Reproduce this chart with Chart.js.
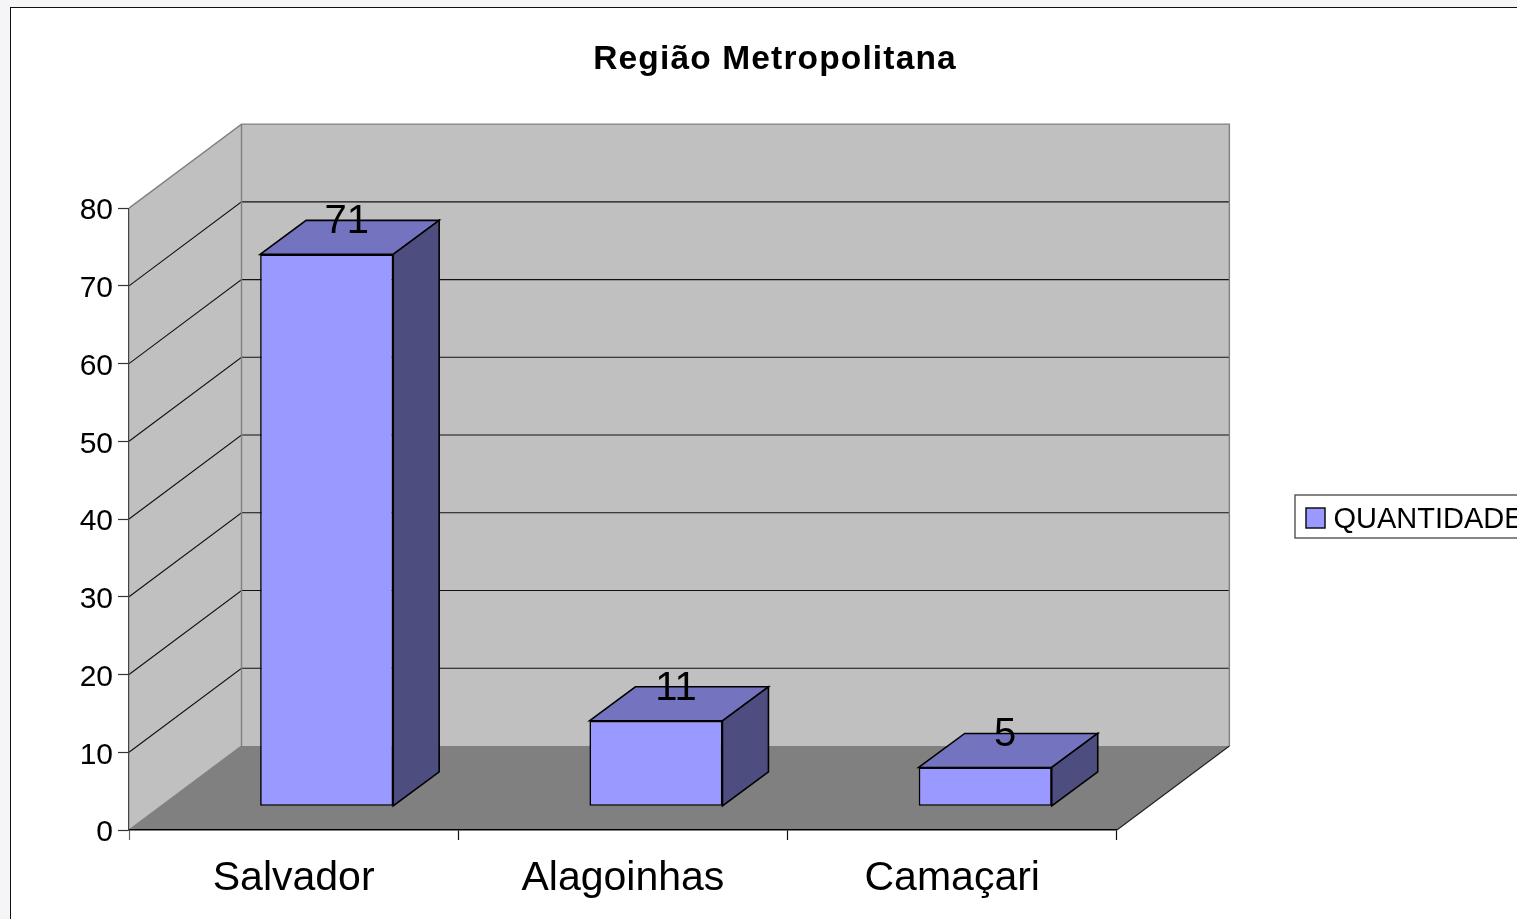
<!DOCTYPE html>
<html lang="pt">
<head>
<meta charset="utf-8">
<title>Região Metropolitana</title>
<script src="https://cdn.jsdelivr.net/npm/chart.js@4/dist/chart.umd.min.js"></script>
<style>
html,body{margin:0;padding:0;width:1517px;height:919px;overflow:hidden;background:#f5f5f7}
#frame{position:absolute;left:10px;top:7px;width:1600px;height:1000px;border:1.5px solid #111;background:#fff;box-sizing:border-box}
#c{position:absolute;left:11px;top:8px;display:block}
</style>
</head>
<body>
<div id="frame"></div>
<canvas id="c" width="1528" height="911"></canvas>
<script>
const titleText = "Região Metropolitana";
const seriesName = "QUANTIDADE";
const categories = ["Salvador", "Alagoinhas", "Camaçari"];
const quantities = [71, 11, 5];
const yMin = 0, yMax = 80, yStep = 10;

const FONT = '"Liberation Sans", Arial, sans-serif';
const WALL = '#c0c0c0', FLOOR = '#808080', EDGE = '#808080';
const FACE = '#9999ff', TOP = '#7373bf', SIDE = '#4d4d80';
const DEPTH = {dx: 112.5, dy: -84};    // plot depth
const BAR_SHIFT = {dx: 33, dy: -23.7}; // bar front plane inside the plot
const BAR_DEPTH = {dx: 46, dy: -34};   // bar depth
const LEGEND_BOX = {left: 1284, top: 487, right: 1560, bottom: 530};
const LEGEND_TEXT_SHIFT = 3;

function poly(ctx, pts, fill, stroke, lw) {
  ctx.beginPath();
  pts.forEach((p, i) => i ? ctx.lineTo(p[0], p[1]) : ctx.moveTo(p[0], p[1]));
  ctx.closePath();
  if (fill) { ctx.fillStyle = fill; ctx.fill(); }
  if (stroke) { ctx.strokeStyle = stroke; ctx.lineWidth = lw || 1; ctx.stroke(); }
}

const plot3d = {
  id: 'plot3d',
  afterLayout(chart) {
    const l = chart.legend;
    l.left = LEGEND_BOX.left; l.right = LEGEND_BOX.right;
    l.top = LEGEND_BOX.top + LEGEND_TEXT_SHIFT; l.bottom = LEGEND_BOX.bottom + LEGEND_TEXT_SHIFT;
    const t = chart.titleBlock;
    t.left = 0; t.right = chart.width;
    if (!t._spaced) {
      const draw = t.draw;
      t.draw = function () {
        this.ctx.save();
        this.ctx.letterSpacing = '1.15px';
        draw.call(this);
        this.ctx.restore();
      };
      t._spaced = true;
    }
  },
  beforeDraw(chart) {
    const {ctx, chartArea: a, scales: {y}} = chart;
    const {dx, dy} = DEPTH;
    ctx.save();
    poly(ctx, [[a.left+dx,a.top+dy],[a.right+dx,a.top+dy],[a.right+dx,a.bottom+dy],[a.left+dx,a.bottom+dy]], WALL);
    poly(ctx, [[a.left,a.top],[a.left+dx,a.top+dy],[a.left+dx,a.bottom+dy],[a.left,a.bottom]], WALL);
    poly(ctx, [[a.left,a.bottom],[a.left+dx,a.bottom+dy],[a.right+dx,a.bottom+dy],[a.right,a.bottom]], FLOOR);
    y.ticks.forEach(t => {
      if (t.value === yMin || t.value === yMax) return;
      const p = y.getPixelForValue(t.value);
      ctx.beginPath();
      ctx.moveTo(a.left, p); ctx.lineTo(a.left+dx, p+dy); ctx.lineTo(a.right+dx, p+dy);
      ctx.strokeStyle = '#111'; ctx.lineWidth = 1.1; ctx.stroke();
    });
    ctx.beginPath();
    ctx.moveTo(a.left, a.top); ctx.lineTo(a.left+dx, a.top+dy); ctx.lineTo(a.right+dx, a.top+dy);
    ctx.lineTo(a.right+dx, a.bottom+dy);
    ctx.moveTo(a.left+dx, a.top+dy); ctx.lineTo(a.left+dx, a.bottom+dy); ctx.lineTo(a.left, a.bottom);
    ctx.strokeStyle = EDGE; ctx.lineWidth = 1.4; ctx.stroke();
    ctx.beginPath();
    ctx.moveTo(a.right, a.bottom); ctx.lineTo(a.right+dx, a.bottom+dy);
    ctx.strokeStyle = '#222'; ctx.lineWidth = 1.2; ctx.stroke();
    ctx.restore();
  },
  beforeDatasetDraw(chart) {
    chart.ctx.save();
    chart.ctx.translate(BAR_SHIFT.dx, BAR_SHIFT.dy);
  },
  afterDatasetDraw(chart, args) {
    const ctx = chart.ctx, {dx, dy} = BAR_DEPTH;
    args.meta.data.forEach(el => {
      const l = el.x - el.width/2, r = el.x + el.width/2;
      poly(ctx, [[l,el.y],[l+dx,el.y+dy],[r+dx,el.y+dy],[r,el.y]], TOP, '#000', 1.6);
      poly(ctx, [[r,el.y],[r+dx,el.y+dy],[r+dx,el.base+dy],[r,el.base]], SIDE, '#000', 1.6);
    });
    ctx.restore();
  },
  afterDatasetsDraw(chart) {
    const ctx = chart.ctx, meta = chart.getDatasetMeta(0);
    ctx.save();
    ctx.font = '40px ' + FONT;
    ctx.fillStyle = '#000';
    ctx.textAlign = 'center';
    ctx.textBaseline = 'middle';
    meta.data.forEach((el, i) => {
      ctx.fillText(String(quantities[i]), el.x + BAR_SHIFT.dx + 20, el.y + BAR_SHIFT.dy + BAR_DEPTH.dy + 2);
    });
    ctx.restore();
  },
  afterDraw(chart) {
    const ctx = chart.ctx, b = LEGEND_BOX;
    ctx.save();
    ctx.strokeStyle = '#444'; ctx.lineWidth = 1.3;
    ctx.strokeRect(b.left, b.top, b.right - b.left, b.bottom - b.top);
    ctx.fillStyle = FACE; ctx.strokeStyle = '#111'; ctx.lineWidth = 1.5;
    ctx.fillRect(b.left + 11, b.top + 13, 19, 20);
    ctx.strokeRect(b.left + 11, b.top + 13, 19, 20);
    ctx.restore();
  }
};

new Chart(document.getElementById('c'), {
  type: 'bar',
  plugins: [plot3d],
  data: {
    labels: categories,
    datasets: [{
      label: seriesName,
      data: quantities,
      backgroundColor: FACE,
      borderColor: '#000',
      borderWidth: 1.6,
      borderSkipped: false,
      barPercentage: 0.404,
      categoryPercentage: 1,
      clip: false
    }]
  },
  options: {
    responsive: false,
    animation: false,
    devicePixelRatio: 1,
    layout: {padding: {left: 0, top: 0, bottom: 0, right: 183.5}, autoPadding: false},
    plugins: {
      tooltip: {enabled: false},
      title: {
        display: true, text: titleText, color: '#000',
        font: {family: FONT, size: 33.5, weight: 'bold'},
        padding: {top: 31.9, bottom: 128}
      },
      legend: {
        display: true, position: 'right', align: 'center',
        labels: {
          color: '#000', font: {family: FONT, size: 29},
          boxWidth: 13, boxHeight: 13, padding: 11,
          generateLabels: () => [{text: seriesName, fillStyle: 'rgba(0,0,0,0)', strokeStyle: 'rgba(0,0,0,0)', lineWidth: 0, datasetIndex: 0}]
        }
      }
    },
    scales: {
      x: {
        afterFit(s) { s.height = 89; },
        border: {color: '#000', width: 1.5},
        grid: {drawOnChartArea: false, tickLength: 10, tickWidth: 1.2,
               tickColor: c => (c.index === 0 || c.index === categories.length) ? '#666' : '#111'},
        ticks: {color: '#000', font: {family: FONT, size: 41}, padding: 14, maxRotation: 0}
      },
      y: {
        min: yMin, max: yMax,
        afterFit(s) { s.width = 118; },
        border: {color: '#444', width: 1.2},
        grid: {drawOnChartArea: false, tickLength: 11, tickWidth: 1.2, tickColor: '#333'},
        ticks: {stepSize: yStep, color: '#000', font: {family: FONT, size: 30}, padding: 5, labelOffset: 3}
      }
    }
  }
});
</script>
</body>
</html>
